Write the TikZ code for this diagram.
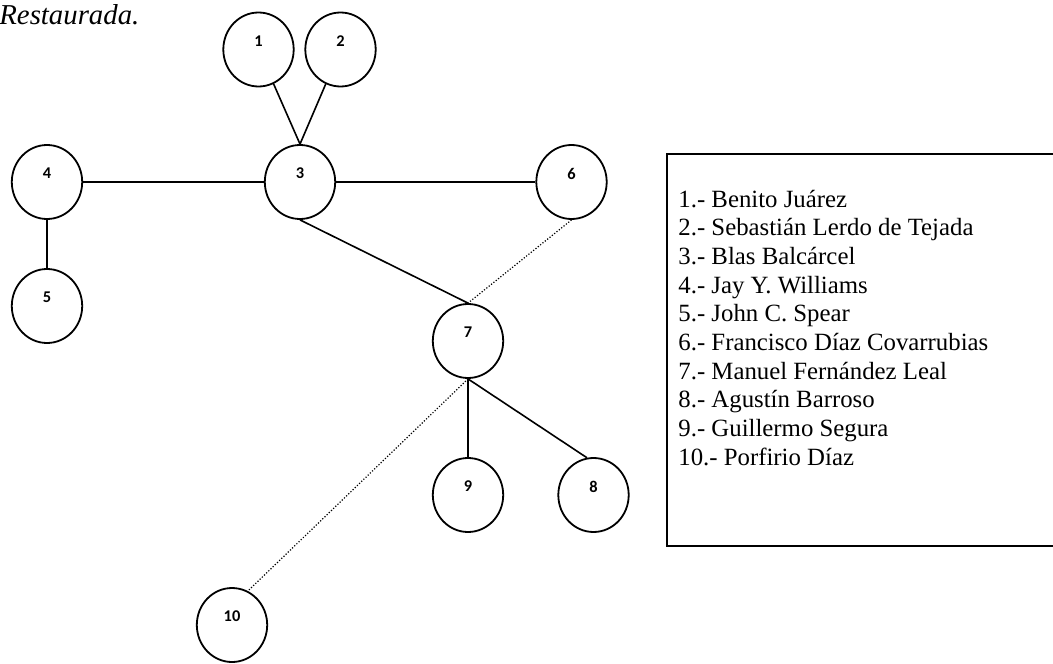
\documentclass[tikz,border=0pt]{standalone}
\usepackage{fontspec}
\setmainfont{Liberation Serif}
\newfontfamily\etiqfont{Carlito}
\usetikzlibrary{shapes.geometric}

\tikzset{
    persona/.style={ellipse, draw, line width=0.9pt, minimum width=35.2pt,
        minimum height=37pt, inner sep=0pt,
        label={[font=\etiqfont\bfseries\fontsize{8.2}{9}\selectfont, yshift=4.25pt]center:#1}},
    enlace/.style={line width=0.8pt},
    debil/.style={line width=0.6pt, dash pattern=on 0.6pt off 0.9pt},
    marco/.style={line width=1pt}
}

\begin{document}
\begin{tikzpicture}[x=0.5pt, y=-0.5pt]
    \useasboundingbox (0,0) rectangle (1053,663);

    \node[anchor=base west, inner sep=0pt, font=\itshape\fontsize{14.4}{17}\selectfont] (titulo) at (-1,25) {Restaurada.};

    % Personajes
    \node[persona=1] (n1) at (258.5,49.5) {};
    \node[persona=2] (n2) at (340.5,49.5) {};
    \node[persona=3] (n3) at (300,182) {};
    \node[persona=4] (n4) at (47,182) {};
    \node[persona=5] (n5) at (47,306) {};
    \node[persona=6] (n6) at (571.5,182) {};
    \node[persona=7] (n7) at (468,341) {};
    \node[persona=8] (n8) at (593.5,495) {};
    \node[persona=9] (n9) at (468,495) {};
    \node[persona=10] (n10) at (232,625) {};

    % Relaciones
    \draw[enlace] (n1) -- (n3.north);
    \draw[enlace] (n2) -- (n3.north);
    \draw[enlace] (n4) -- (n3);
    \draw[enlace] (n3) -- (n6);
    \draw[enlace] (n4) -- (n5);
    \draw[enlace] (n3.south) -- (n7.north);
    \draw[enlace] (n7.south) -- (n9.north);
    \draw[enlace] (n7.south) -- (n8.100);
    \draw[debil] (n6.south) -- (n7.north);
    \draw[debil] (n7.south) -- (n10.65);

    % Cuadro de nombres
    \draw[marco] (1060,154) -- (667,154) -- (667,546) -- (1060,546);
    \foreach \n/\nombre in {1/Benito Juárez, 2/Sebastián Lerdo de Tejada,
        3/Blas Balcárcel, 4/Jay Y. Williams, 5/John C. Spear,
        6/Francisco Díaz Covarrubias, 7/Manuel Fernández Leal,
        8/Agustín Barroso, 9/Guillermo Segura, 10/Porfirio Díaz}
        \node[anchor=base west, inner sep=0pt, font=\fontsize{12.4}{14}\selectfont]
            (nom\n) at (678,{207+(\n-1)*28.7}) {\n.- \nombre};
\end{tikzpicture}
\end{document}
